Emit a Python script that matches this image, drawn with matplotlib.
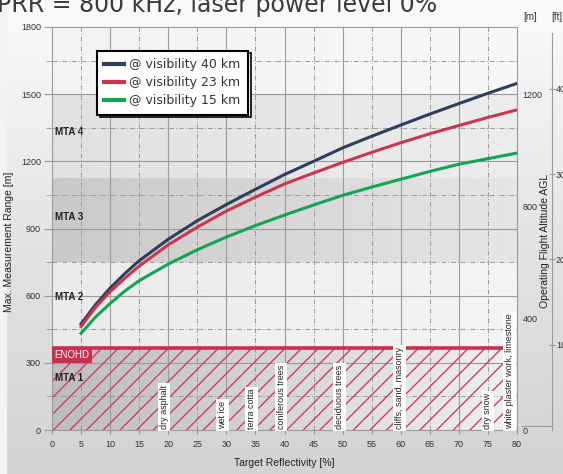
import numpy as np
import matplotlib
matplotlib.use("Agg")
import matplotlib.pyplot as plt
from matplotlib.patches import Rectangle
from matplotlib.lines import Line2D

# range curves, read per reflectivity step
reflectivity = [5, 7.5, 10, 12.5, 15, 20, 25, 30, 35, 40, 45, 50, 55, 60, 65, 70, 75, 80]
range_40km = [474, 560, 634, 698, 756, 852, 935, 1007, 1075, 1141, 1200, 1260, 1312, 1362, 1411, 1458, 1504, 1548]
range_23km = [462, 548, 618, 677, 732, 827, 906, 978, 1040, 1099, 1148, 1195, 1240, 1283, 1323, 1360, 1396, 1430]
range_15km = [432, 505, 565, 620, 667, 741, 805, 862, 913, 960, 1005, 1048, 1085, 1120, 1155, 1187, 1212, 1237]
series_labels = ["@ visibility 40 km", "@ visibility 23 km", "@ visibility 15 km"]

# MTA zones and eye-safety distance
mta_edges = [0, 375, 750, 1125, 1500, 1800]
mta_names = ["MTA 1", "MTA 2", "MTA 3", "MTA 4"]
mta_label_y = [231, 594, 950, 1330]
enohd = 365
enohd_end = 77.6

# typical targets
targets = ["dry asphalt", "wet ice", "terra cotta", "coniferous trees", "deciduous trees",
           "cliffs, sand, masonry", "dry snow", "white plaster work, limestone"]
target_x = [19.3, 29.3, 34.3, 39.4, 49.5, 59.8, 75.0, 78.7]

alt_ticks_m = [0, 400, 800, 1200]
alt_ticks_ft = [1000, 2000, 3000, 4000]
range_to_alt = 0.8

W, H = 563, 474
narrow = ["Liberation Sans Narrow", "Liberation Sans", "DejaVu Sans"]
plt.rcParams["font.family"] = narrow
plt.rcParams["hatch.linewidth"] = 1.0

fig = plt.figure(figsize=(W / 100, H / 100), dpi=100)

# figure background: light at top, grey towards the bottom
bg = fig.add_axes([0, 0, 1, 1], zorder=-10)
grad = np.linspace(0, 1, 256)[:, None]
bg.imshow(grad, aspect="auto", cmap=matplotlib.colors.LinearSegmentedColormap.from_list(
    "bg", ["#fbfbfb", "#e4e4e4", "#d3d3d3"]), extent=[0, 1, 0, 1])
bg.axvspan(0, 6 / W, color="#f3f3f3")
bg.set_xlim(0, 1)
bg.set_ylim(0, 1)
bg.axis("off")

ax = fig.add_axes([52 / W, 44 / H, 465 / W, 403 / H])
ax.set_xlim(0, 80)
ax.set_ylim(0, 1800)

# shaded zone bands (horizontal gradients)
band_colors = [("#bdbdbd", "#f0f0f0"), ("#ebebeb", "#f4f4f4"), ("#c9c9c9", "#e6e6e6"),
               ("#e1e1e1", "#ededed"), ("#f3f3f3", "#f8f8f8")]
hgrad = np.linspace(0, 1, 256)[None, :]
for (lo, hi), (c0, c1) in zip(zip(mta_edges[:-1], mta_edges[1:]), band_colors):
    lo_v = enohd if lo == mta_edges[1] else lo
    hi_v = enohd if hi == mta_edges[1] else hi
    cm = matplotlib.colors.LinearSegmentedColormap.from_list("b", [c0, c1])
    ax.imshow(hgrad, aspect="auto", cmap=cm, extent=[0, 80, lo_v, hi_v], zorder=0)

# grid
grid_c = "#9a9a9a"
for x in range(5, 80, 5):
    if x % 10 == 0:
        ax.axvline(x, color=grid_c, lw=0.8, zorder=1)
    else:
        ax.axvline(x, color=grid_c, lw=0.7, ls=(0, (5, 2, 1, 2)), zorder=1)
for y in range(150, 1800, 150):
    if y % 300 == 0:
        ax.axhline(y, color=grid_c, lw=0.8, zorder=1)
    else:
        ax.axhline(y, color=grid_c, lw=0.7, ls=(0, (5, 2, 1, 2)), zorder=1)

# ENOHD hatched zone
ax.add_patch(Rectangle((0, 0), enohd_end, enohd, fill=False, hatch="//",
                       edgecolor="#d23d5a", linewidth=0, zorder=2))
ax.plot([0, enohd_end], [enohd, enohd], color="#c8304e", lw=2.6, zorder=4,
        solid_capstyle="butt")
ax.text(0.4, enohd - 8, "ENOHD", color="white", fontsize=7, va="top", ha="left", zorder=6,
        bbox=dict(boxstyle="square,pad=0.25", fc="#c8304e", ec="none"))

for name, y in zip(mta_names, mta_label_y):
    ax.text(0.6, y, name, fontsize=7, fontweight="bold", color="#222222",
            va="center", ha="left", zorder=5)

for name, x in zip(targets, target_x):
    ax.text(x, 3, name, rotation=90, fontsize=6.5, color="#222222", ha="center", va="bottom",
            zorder=5, bbox=dict(boxstyle="square,pad=0.2", fc="white", ec="none"))

# range curves
colors = ["#2d3e5e", "#c8364f", "#13a550"]
for vals, c, lab in zip([range_40km, range_23km, range_15km], colors, series_labels):
    ax.plot(reflectivity, vals, color=c, lw=2.2, label=lab, zorder=7)

leg = ax.legend(loc="upper left", bbox_to_anchor=(0.083, 0.957), fancybox=False,
                framealpha=1, edgecolor="black", handlelength=1.6, handletextpad=0.4,
                borderpad=0.6, labelspacing=0.4,
                prop={"family": ["DejaVu Sans"], "size": 9},
                shadow={"facecolor": "#f2f2f2", "edgecolor": "black", "alpha": 1, "linewidth": 1.2})
leg.get_frame().set_linewidth(1.5)
for t in leg.get_texts():
    t.set_color("#333333")
for h in leg.get_lines():
    h.set_linewidth(3)
leg.set_zorder(10)

# axes styling
for s in ax.spines.values():
    s.set_color(grid_c)
    s.set_linewidth(0.8)
ax.set_xticks(range(0, 81, 5))
ax.set_yticks(range(0, 1801, 300))
ax.set_yticks(range(150, 1800, 300), minor=True)
ax.tick_params(axis="both", labelsize=6.5, colors="#333333")
ax.tick_params(axis="y", length=6, color=grid_c, pad=2)
ax.tick_params(axis="y", which="minor", length=4, color=grid_c)
ax.tick_params(axis="x", length=3, color=grid_c, pad=4)
ax.set_xlabel("Target Reflectivity [%]", fontsize=7.5, color="#222222", labelpad=7)
ax.set_ylabel("Max. Measurement Range [m]", fontsize=7.5, color="#222222")
ax.yaxis.set_label_coords((14 - 52) / 465, 0.466)

# operating altitude scales on the right
ax_m = ax.twinx()
ax_m.set_ylim(0, 1800 * range_to_alt)
ax_m.set_yticks(alt_ticks_m)
ax_m.tick_params(axis="y", length=0, labelsize=6.5, colors="#333333", pad=4)
for s in ax_m.spines.values():
    s.set_visible(False)

ax_ft = ax.twinx()
ax_ft.set_ylim(0, 1800 * range_to_alt / 0.3048)
ax_ft.spines["right"].set_position(("axes", 1.075))
for k in ["top", "left", "bottom"]:
    ax_ft.spines[k].set_visible(False)
ax_ft.spines["right"].set_color(grid_c)
ax_ft.spines["right"].set_linewidth(0.8)
ax_ft.spines["right"].set_bounds(0, 1800 * range_to_alt / 0.3048 * 0.985)
ax_ft.set_yticks(alt_ticks_ft)
ax_ft.tick_params(axis="y", length=4, direction="inout", color=grid_c, labelsize=6.5,
                  colors="#333333", pad=1)
fig.text(545 / W, 1 - 241 / H, "Operating Flight Altitude AGL", rotation=90, fontsize=7.5,
         color="#222222", ha="center", va="center")

fig.add_artist(Line2D([522 / W, 552 / W], [1 - 426 / H, 1 - 426 / H], color=grid_c, lw=0.8))
fig.text(530 / W, 1 - 17 / H, "[m]", fontsize=7, color="#333333", ha="center", va="center")
fig.text(557 / W, 1 - 17 / H, "[ft]", fontsize=7, color="#333333", ha="center", va="center")

fig.text(-3 / W, 1 - 12 / H, "PRR = 800 kHz, laser power level 0%", fontsize=17,
         color="#3a3a3a", ha="left", va="baseline", family=["DejaVu Sans"])

fig.savefig("out.png", dpi=100)
